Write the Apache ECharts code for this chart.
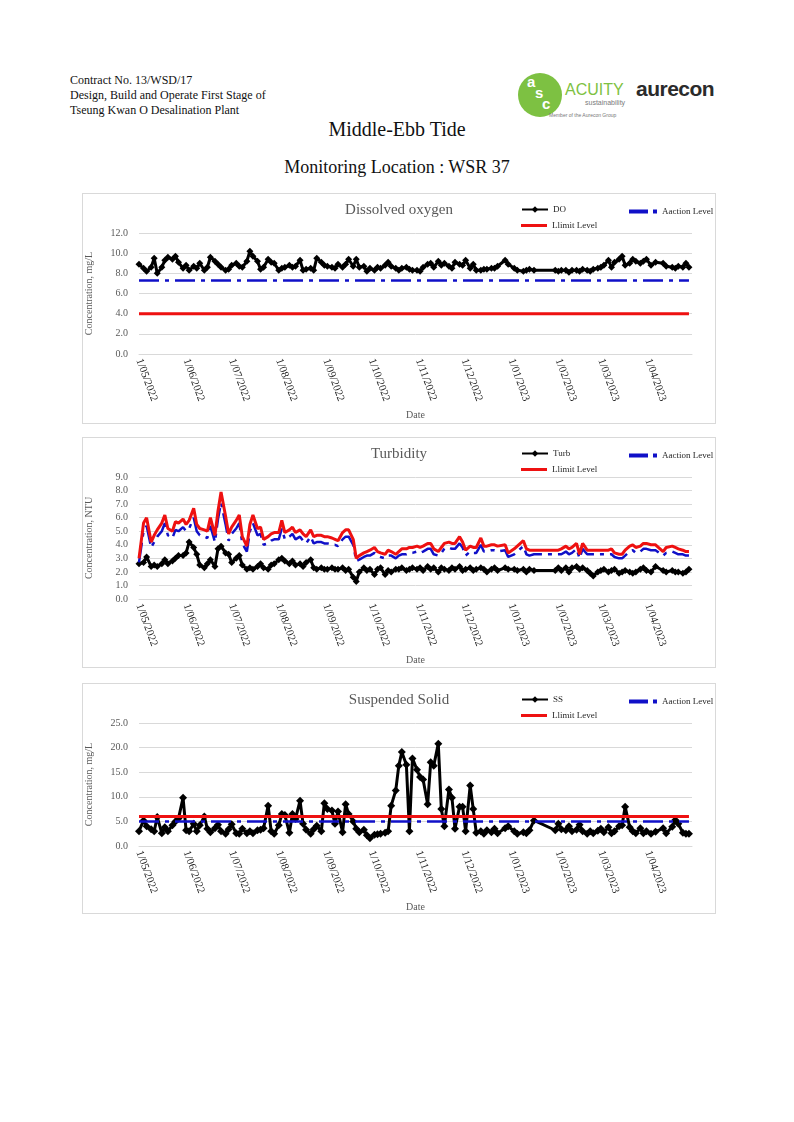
<!DOCTYPE html>
<html><head><meta charset="utf-8">
<script src="https://cdn.jsdelivr.net/npm/echarts@6/dist/echarts.min.js"></script>
<style>
body{margin:0;background:#fff;width:794px;height:1122px;position:relative;overflow:hidden;font-family:'Liberation Serif',serif;color:#111}
.hdr{position:absolute;left:70px;top:73px;font-size:12px;line-height:15px}
.t1{position:absolute;left:0;width:794px;top:118px;text-align:center;font-size:20px}
.t2{position:absolute;left:0;width:794px;top:157px;text-align:center;font-size:18px}
.panel{position:absolute;left:82px;width:634px;height:231px;border:1px solid #d9d9d9;box-sizing:border-box}
.logo{position:absolute;font-family:'Liberation Sans',sans-serif;white-space:nowrap}
</style></head>
<body>
<div class="hdr">Contract No. 13/WSD/17<br>Design, Build and Operate First Stage of<br>Tseung Kwan O Desalination Plant</div>
<div class="logo" style="left:518px;top:73px;width:44px;height:44px;border-radius:50%;background:#7DC142"></div>
<div class="logo" style="left:527px;top:73px;color:#fff;font-weight:bold;font-size:15px">a</div>
<div class="logo" style="left:535px;top:84px;color:#fff;font-weight:bold;font-size:15px">s</div>
<div class="logo" style="left:542px;top:95px;color:#fff;font-weight:bold;font-size:15px">c</div>
<div class="logo" style="left:565px;top:81px;color:#7DC142;font-size:16px">ACUITY</div>
<div class="logo" style="left:585px;top:99px;color:#7a7a7a;font-size:7px">sustainability</div>
<div class="logo" style="left:549px;top:112px;color:#777;font-size:5px">Member of the Aurecon Group</div>
<div class="logo" style="left:636px;top:77px;color:#2b2b2b;font-size:21px;font-weight:bold;letter-spacing:-0.5px">aurecon</div>
<div class="t1">Middle-Ebb Tide</div>
<div class="t2">Monitoring Location : WSR 37</div>
<div class="panel" id="c1" style="top:193px"></div>
<div class="panel" id="c2" style="top:437px"></div>
<div class="panel" id="c3" style="top:683px"></div>
<script>
// Sampling dates
const sampleDates = [
 "2022-05-01","2022-05-04","2022-05-06","2022-05-09","2022-05-11","2022-05-13","2022-05-16","2022-05-18","2022-05-20","2022-05-23","2022-05-25","2022-05-27","2022-05-30",
 "2022-06-01","2022-06-03","2022-06-06","2022-06-08","2022-06-10","2022-06-13","2022-06-15","2022-06-17","2022-06-20","2022-06-22","2022-06-24","2022-06-27","2022-06-29",
 "2022-07-01","2022-07-04","2022-07-06","2022-07-08","2022-07-11","2022-07-13","2022-07-15","2022-07-18","2022-07-20","2022-07-22","2022-07-25","2022-07-27","2022-07-29",
 "2022-08-01","2022-08-03","2022-08-05","2022-08-08","2022-08-10","2022-08-12","2022-08-15","2022-08-17","2022-08-19","2022-08-22","2022-08-24","2022-08-26","2022-08-29","2022-08-31",
 "2022-09-02","2022-09-05","2022-09-07","2022-09-09","2022-09-12","2022-09-14","2022-09-16","2022-09-19","2022-09-21","2022-09-23","2022-09-26","2022-09-28","2022-09-30",
 "2022-10-03","2022-10-05","2022-10-07","2022-10-10","2022-10-12","2022-10-14","2022-10-17","2022-10-19","2022-10-21","2022-10-24","2022-10-26","2022-10-28","2022-10-31",
 "2022-11-02","2022-11-04","2022-11-07","2022-11-09","2022-11-11","2022-11-14","2022-11-16","2022-11-18","2022-11-21","2022-11-23","2022-11-25","2022-11-28","2022-11-30",
 "2022-12-02","2022-12-05","2022-12-07","2022-12-09","2022-12-12","2022-12-14","2022-12-16","2022-12-19","2022-12-21","2022-12-23","2022-12-28","2022-12-30",
 "2023-01-03","2023-01-05","2023-01-09","2023-01-11","2023-01-13","2023-01-16","2023-01-30",
 "2023-02-01","2023-02-03","2023-02-06","2023-02-08","2023-02-10","2023-02-13","2023-02-15","2023-02-17","2023-02-20","2023-02-22","2023-02-24","2023-02-27",
 "2023-03-01","2023-03-03","2023-03-06","2023-03-08","2023-03-10","2023-03-13","2023-03-15","2023-03-17","2023-03-20","2023-03-22","2023-03-24","2023-03-27","2023-03-29","2023-03-31",
 "2023-04-03","2023-04-06","2023-04-11","2023-04-13","2023-04-17","2023-04-19","2023-04-21","2023-04-24","2023-04-26","2023-04-28"
];
// Dissolved oxygen (mg/L)
const doValues = [
 8.9,8.5,8.2,8.6,9.5,8.0,8.6,9.3,9.6,9.4,9.7,9.1,8.5,
 8.8,8.3,8.7,8.5,9.0,8.3,8.6,9.6,9.2,8.9,8.6,8.3,8.4,
 8.8,9.0,8.7,8.6,9.2,10.2,9.7,9.2,8.4,8.6,9.4,9.1,9.0,
 8.3,8.5,8.6,8.8,8.6,8.7,9.3,8.3,8.4,8.5,8.3,9.5,9.1,8.8,
 8.7,8.6,8.5,8.9,8.6,8.9,9.4,8.7,9.4,8.6,8.7,8.2,8.5,
 8.3,8.6,8.5,8.8,9.1,8.7,8.5,8.3,8.5,8.6,8.4,8.3,8.3,
 8.2,8.6,8.9,9.0,8.6,9.2,8.8,9.0,8.7,8.5,9.1,8.9,8.8,
 9.3,8.5,8.9,8.3,8.3,8.4,8.4,8.5,8.5,8.7,9.3,8.9,
 8.5,8.3,8.2,8.3,8.4,8.3,8.3,
 8.2,8.3,8.3,8.1,8.3,8.3,8.2,8.4,8.3,8.2,8.4,8.5,
 8.6,8.8,9.3,8.6,9.1,9.4,9.7,8.8,9.0,9.4,9.2,9.0,9.2,9.4,
 8.8,9.1,9.0,8.7,8.6,8.5,8.7,8.6,9.0,8.6
];
const doAction = 7.3;
const doLimit = 4.0;
// Turbidity (NTU)
const turbValues = [
 2.6,2.7,3.1,2.4,2.5,2.4,2.6,2.9,2.6,2.8,3.0,3.2,3.2,
 3.4,4.2,3.8,3.3,2.5,2.3,2.6,2.9,2.4,3.7,3.9,3.4,3.3,
 2.7,3.0,3.2,2.5,2.2,2.3,2.2,2.4,2.6,2.3,2.2,2.5,2.6,
 2.9,3.0,2.8,2.6,2.8,2.5,2.6,2.4,2.7,2.9,2.3,2.2,2.3,2.2,
 2.2,2.3,2.2,2.2,2.3,2.1,2.2,1.6,1.3,2.0,2.3,2.1,2.2,
 1.8,2.2,2.3,1.8,2.1,2.0,2.2,2.2,2.3,2.1,2.2,2.3,2.2,
 2.3,2.1,2.4,2.2,2.3,2.0,2.3,2.2,2.1,2.3,2.2,2.4,2.1,
 2.2,2.3,2.1,2.2,2.3,2.2,2.0,2.2,2.3,2.1,2.3,2.2,
 2.2,2.1,2.2,2.0,2.2,2.1,2.1,
 2.3,2.1,2.3,2.0,2.3,2.4,2.2,2.3,2.1,1.9,1.7,2.0,
 2.1,2.2,2.0,2.1,2.2,1.9,2.0,2.1,2.0,1.9,2.0,2.2,2.3,2.1,
 2.0,2.4,2.1,2.0,2.1,2.0,2.0,1.9,2.0,2.2
];
const turbAction = [
 2.7,5.0,5.4,3.8,4.2,4.6,5.0,5.6,4.7,4.5,5.1,5.0,5.3,
 5.0,5.2,6.0,5.0,4.7,4.6,4.5,5.4,4.2,5.9,7.1,5.5,4.3,
 4.8,5.2,5.6,4.1,3.5,5.0,5.6,4.7,4.8,4.0,4.1,4.3,4.4,
 4.4,5.2,4.4,4.6,4.8,4.4,4.6,4.3,4.1,4.6,4.1,4.2,4.2,4.1,
 4.1,4.0,4.0,3.9,4.4,4.6,4.6,4.0,2.8,2.9,3.1,3.2,3.2,
 3.4,3.2,3.1,3.0,3.2,3.2,3.0,3.2,3.3,3.3,3.4,3.4,3.5,
 3.4,3.5,3.7,3.7,3.3,3.2,3.4,3.7,3.8,3.7,3.7,4.1,3.8,
 3.2,3.5,3.4,3.4,4.0,3.5,3.5,3.6,3.6,3.5,3.6,3.1,
 3.3,3.5,3.9,3.3,3.2,3.3,3.3,
 3.3,3.3,3.5,3.3,3.4,3.7,3.0,3.7,3.3,3.3,3.3,3.3,
 3.3,3.3,3.3,3.3,3.1,3.0,3.0,3.2,3.5,3.6,3.4,3.5,3.7,3.7,
 3.6,3.6,3.2,3.4,3.5,3.4,3.3,3.3,3.2,3.2
];
const turbLimit = [
 3.0,5.6,6.0,4.2,4.7,5.1,5.6,6.2,5.2,5.0,5.7,5.6,5.9,
 5.5,5.8,6.7,5.5,5.2,5.1,5.0,6.0,4.7,6.5,7.9,6.1,4.8,
 5.3,5.8,6.2,4.6,3.9,5.5,6.2,5.2,5.3,4.4,4.6,4.8,4.9,
 4.9,5.8,4.9,5.1,5.3,4.9,5.1,4.8,4.6,5.1,4.6,4.7,4.7,4.6,
 4.6,4.5,4.4,4.3,4.9,5.1,5.1,4.4,3.0,3.2,3.4,3.5,3.6,
 3.8,3.5,3.4,3.3,3.6,3.5,3.3,3.5,3.7,3.7,3.8,3.8,3.9,
 3.8,3.9,4.1,4.1,3.7,3.5,3.8,4.1,4.2,4.1,4.1,4.6,4.2,
 3.6,3.9,3.8,3.8,4.5,3.9,3.9,4.0,4.0,3.9,4.0,3.4,
 3.7,3.9,4.3,3.7,3.6,3.6,3.6,
 3.6,3.7,3.9,3.7,3.8,4.1,3.3,4.1,3.6,3.6,3.6,3.6,
 3.6,3.6,3.6,3.7,3.4,3.3,3.3,3.6,3.9,4.0,3.8,3.9,4.1,4.1,
 4.0,4.0,3.5,3.8,3.9,3.8,3.7,3.6,3.5,3.5
];
// Suspended solids (mg/L)
const ssValues = [
 3.0,5.2,4.0,3.4,3.0,5.9,2.6,3.8,3.0,4.2,5.0,5.6,9.8,
 3.2,3.0,4.5,3.0,4.2,6.0,3.5,2.8,3.6,4.3,3.0,2.5,3.4,
 4.4,2.6,2.5,3.5,2.6,3.0,2.6,3.2,3.3,3.6,8.2,3.0,2.5,
 4.2,6.5,6.3,2.7,6.5,5.5,9.2,4.5,3.3,2.5,3.4,4.1,3.0,8.7,
 7.5,7.2,4.5,7.0,2.8,8.5,6.5,5.0,3.5,2.8,3.3,2.2,1.6,
 2.3,2.4,2.5,2.7,3.0,8.2,11.3,16.3,19.1,16.5,3.0,17.8,15.5,
 14.0,13.5,8.5,17.0,16.3,20.8,7.5,4.0,11.5,9.8,3.5,8.0,8.0,
 3.0,12.3,7.5,2.7,3.0,2.5,3.2,2.8,3.5,2.6,3.6,4.0,
 3.0,2.5,2.8,2.6,3.2,5.2,3.2,
 4.5,3.4,3.2,4.0,3.0,3.3,4.3,3.0,2.5,3.0,2.6,3.1,
 3.5,2.8,3.8,2.6,3.0,4.0,4.2,8.0,3.8,3.0,2.6,3.6,2.6,3.0,
 2.5,2.9,3.6,2.6,3.9,5.3,4.5,2.7,2.5,2.5
];
const ssAction = 5.0;
const ssLimit = 6.0;
// Axis
const tickDates = ["2022-05-01","2022-06-01","2022-07-01","2022-08-01","2022-09-01","2022-10-01","2022-11-01","2022-12-01","2023-01-01","2023-02-01","2023-03-01","2023-04-01"];
const axisStart = "2022-05-01";
const axisEnd = "2023-04-30";

const FONT = "'Liberation Serif', serif";
const BLACK = '#000000', BLUE = '#1010c8', RED = '#ee1111';
const toTime = s => { const p = s.split('-').map(Number); return new Date(p[0], p[1]-1, p[2]).getTime(); };
const pad = n => (n < 10 ? '0' : '') + n;
const fmtDate = v => { const d = new Date(v); return d.getDate() + '/' + pad(d.getMonth()+1) + '/' + d.getFullYear(); };
const times = sampleDates.map(toTime);
const pairs = vals => times.map((t, i) => [t, Array.isArray(vals) ? vals[i] : vals]);
const DASH = [20, 6, 4, 6];

function build(id, cfg) {
  const chart = echarts.init(document.getElementById(id), null, {renderer: 'canvas'});
  const legendText = {fontFamily: FONT, fontSize: 9, color: '#262626'};
  const lg = {padding: 0, textStyle: legendText, symbolKeepAspect: false, selectedMode: false};
  chart.setOption({
    animation: false,
    textStyle: {fontFamily: FONT},
    title: {text: cfg.title, left: 'center', top: 4, textStyle: {fontFamily: FONT, fontSize: 15, fontWeight: 'normal', color: '#595959'}},
    legend: [
      Object.assign({data: [{name: cfg.name}], left: 438, top: 11, itemWidth: 26, itemHeight: 8}, lg),
      Object.assign({data: [{name: 'Aaction Level', icon: 'path://M0,0H19V4H0Z M24,0H28V4H24Z',
        itemStyle: {color: BLUE, borderWidth: 0}, lineStyle: {width: 0}}], left: 546, top: 13, itemWidth: 28, itemHeight: 4}, lg),
      Object.assign({data: [{name: 'Llimit Level', icon: 'rect',
        itemStyle: {color: RED, borderWidth: 0}, lineStyle: {width: 0}}], left: 438, top: 27, itemWidth: 26, itemHeight: 3}, lg)
    ],
    grid: {left: 56, right: 23, top: 39, bottom: cfg.bottom, containLabel: false, outerBoundsMode: 'none'},
    xAxis: {
      type: 'value', min: toTime(axisStart), max: toTime(axisEnd),
      axisLine: {show: true, lineStyle: {color: '#d9d9d9'}}, axisTick: {show: false}, splitLine: {show: false},
      axisLabel: {customValues: tickDates.map(toTime), formatter: fmtDate, rotate: -70, fontSize: 11, color: '#1a1a1a', fontFamily: FONT, margin: 5, showMinLabel: true, showMaxLabel: true},
      name: 'Date', nameLocation: 'middle', nameGap: 55, nameTextStyle: {fontFamily: FONT, fontSize: 10, color: '#595959'}
    },
    yAxis: {
      type: 'value', min: 0, max: cfg.max, interval: cfg.interval,
      axisLine: {show: false}, axisTick: {show: false},
      splitLine: {lineStyle: {color: '#d9d9d9', width: 1}},
      axisLabel: {formatter: v => v.toFixed(1), fontSize: 10, color: '#595959', fontFamily: FONT, margin: 11},
      name: cfg.yname, nameLocation: 'middle', nameGap: 45, nameRotate: 90,
      nameTextStyle: {fontFamily: FONT, fontSize: 10, color: '#595959'}
    },
    series: [
      {name: cfg.name, type: 'line', data: pairs(cfg.values), symbol: 'diamond', symbolSize: cfg.sym,
       lineStyle: {color: BLACK, width: 3}, itemStyle: {color: BLACK}, z: 3},
      {name: 'Aaction Level', type: 'line', data: pairs(cfg.action), symbol: 'none',
       lineStyle: {color: BLUE, width: 2.5, type: DASH}, itemStyle: {color: BLUE}, z: 4},
      {name: 'Llimit Level', type: 'line', data: pairs(cfg.limit), symbol: 'none',
       lineStyle: {color: RED, width: 3}, itemStyle: {color: RED}, z: 5}
    ]
  });
}

build('c1', {title: 'Dissolved oxygen', name: 'DO', values: doValues, action: doAction, limit: doLimit, max: 12, interval: 2, yname: 'Concentration, mg/L', bottom: 69, sym: 7});
build('c2', {title: 'Turbidity', name: 'Turb', values: turbValues, action: turbAction, limit: turbLimit, max: 9, interval: 1, yname: 'Concentration, NTU', bottom: 68, sym: 7});
build('c3', {title: 'Suspended Solid', name: 'SS', values: ssValues, action: ssAction, limit: ssLimit, max: 25, interval: 5, yname: 'Concentration, mg/L', bottom: 67, sym: 8});
</script>
</body></html>
